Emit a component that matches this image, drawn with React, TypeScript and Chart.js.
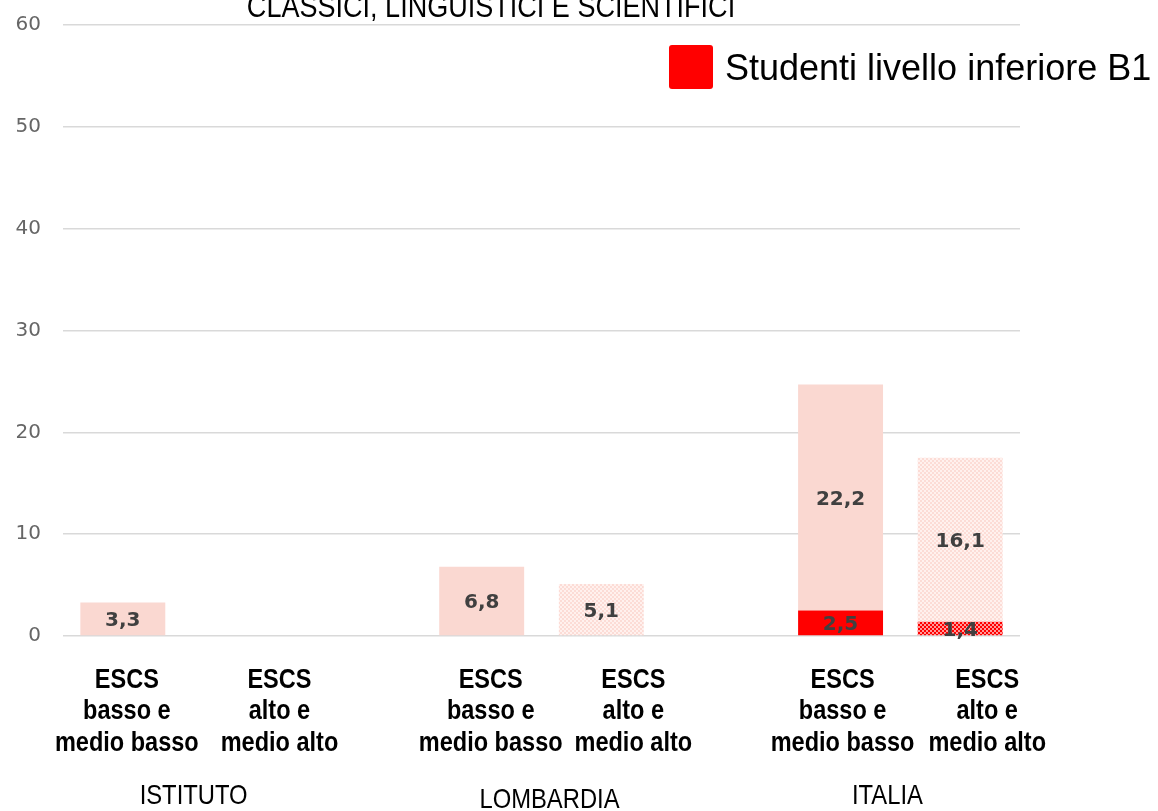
import React, { useEffect, useRef } from "react";
import { Chart, registerables } from "chart.js";

Chart.register(...registerables);

const categories: string[] = ["ist-basso", "ist-alto", "gap1", "lom-basso", "lom-alto", "gap2", "ita-basso", "ita-alto"];
const categoryLines: string[][] = [
  ["ESCS", "basso e", "medio basso"],
  ["ESCS", "alto e", "medio alto"],
  [],
  ["ESCS", "basso e", "medio basso"],
  ["ESCS", "alto e", "medio alto"],
  [],
  ["ESCS", "basso e", "medio basso"],
  ["ESCS", "alto e", "medio alto"],
];
const groupLabels: string[] = ["ISTITUTO", "LOMBARDIA", "ITALIA"];
const groupMembers: number[][] = [[0, 1], [3, 4], [6, 7]];
const isAlto: boolean[] = [false, true, false, false, true, false, false, true];

const belowB1: (number | null)[] = [null, null, null, null, null, null, 2.5, 1.4];
const otherStudents: (number | null)[] = [3.3, null, null, 6.8, 5.1, null, 22.2, 16.1];

const yMin = 0;
const yMax = 60;
const yStep = 10;

const chartTitle = "CLASSICI, LINGUISTICI E SCIENTIFICI";
const legendLabel = "Studenti livello inferiore B1";

const SANS = "'Liberation Sans', Arial, sans-serif";

function makePattern(bg: string, fg: string): CanvasPattern | string {
  const c = document.createElement("canvas");
  c.width = 4;
  c.height = 4;
  const g = c.getContext("2d");
  if (!g) return bg;
  g.fillStyle = bg;
  g.fillRect(0, 0, 4, 4);
  g.fillStyle = fg;
  g.fillRect(0, 0, 2, 2);
  g.fillRect(2, 2, 2, 2);
  const p = g.createPattern(c, "repeat");
  return p || bg;
}

function narrowText(ctx: CanvasRenderingContext2D, text: string, x: number, y: number, squeeze: number) {
  ctx.save();
  ctx.translate(x, y);
  ctx.scale(squeeze, 1);
  ctx.fillText(text, 0, 0);
  ctx.restore();
}

export default function App() {
  const ref = useRef<HTMLCanvasElement | null>(null);

  useEffect(() => {
    if (!ref.current) return;
    const redSolid = "#FF0000";
    const redPat = makePattern("#FF0000", "#FF9A9A");
    const pinkSolid = "#FAD8D1";
    const pinkPat = makePattern("#FFF1EE", "#FCDCD6");

    const labelNudge = [4, 37, 0, 9, 32, 0, 2, 27];
    const groupNudge = [11, 8, -13];
    const groupY = [796, 800, 796];

    const overlay = {
      id: "overlay",
      afterDatasetsDraw(chart: any) {
        const ctx = chart.ctx;
        ctx.save();
        ctx.fillStyle = "#404040";
        ctx.font = `600 20px 'DejaVu Sans', sans-serif`;
        ctx.textAlign = "center";
        ctx.textBaseline = "middle";
        chart.data.datasets.forEach((ds: any, di: number) => {
          const meta = chart.getDatasetMeta(di);
          meta.data.forEach((el: any, i: number) => {
            const v = ds.data[i];
            if (v == null || v <= 0) return;
            const txt = String(v).replace(".", ",");
            ctx.fillText(txt, el.x, (el.y + el.base) / 2 + 2);
          });
        });
        ctx.restore();
      },
      afterDraw(chart: any) {
        const ctx = chart.ctx;
        const x = chart.scales.x;
        ctx.save();
        ctx.textAlign = "center";
        ctx.textBaseline = "middle";
        // category labels
        ctx.fillStyle = "#000000";
        ctx.font = `bold 28px ${SANS}`;
        categoryLines.forEach((lines, i) => {
          const cx = x.getPixelForValue(i) + labelNudge[i];
          lines.forEach((ln, k) => {
            narrowText(ctx, ln, cx, 680 + k * 31.5, 0.84);
          });
        });
        // group labels
        ctx.font = `28px ${SANS}`;
        groupLabels.forEach((g, gi) => {
          const m = groupMembers[gi];
          const cx = (x.getPixelForValue(m[0]) + x.getPixelForValue(m[m.length - 1])) / 2 + groupNudge[gi];
          narrowText(ctx, g, cx, groupY[gi], 0.85);
        });
        // title (cut at top)
        ctx.font = `32px ${SANS}`;
        ctx.textBaseline = "alphabetic";
        narrowText(ctx, chartTitle, 491, 17, 0.845);
        // legend
        ctx.fillStyle = redSolid;
        const r = 3;
        const lx = 669, ly = 45, lw = 44;
        ctx.beginPath();
        ctx.moveTo(lx + r, ly);
        ctx.lineTo(lx + lw - r, ly);
        ctx.quadraticCurveTo(lx + lw, ly, lx + lw, ly + r);
        ctx.lineTo(lx + lw, ly + lw - r);
        ctx.quadraticCurveTo(lx + lw, ly + lw, lx + lw - r, ly + lw);
        ctx.lineTo(lx + r, ly + lw);
        ctx.quadraticCurveTo(lx, ly + lw, lx, ly + lw - r);
        ctx.lineTo(lx, ly + r);
        ctx.quadraticCurveTo(lx, ly, lx + r, ly);
        ctx.fill();
        ctx.fillStyle = "#000000";
        ctx.font = `36px ${SANS}`;
        ctx.textAlign = "left";
        ctx.textBaseline = "middle";
        ctx.fillText(legendLabel, 725, 70);
        ctx.restore();
      },
    };

    const chart = new Chart(ref.current, {
      type: "bar",
      data: {
        labels: categories,
        datasets: [
          {
            label: legendLabel,
            data: belowB1 as any,
            backgroundColor: isAlto.map((a) => (a ? redPat : redSolid)) as any,
            borderWidth: 0,
          },
          {
            label: "Altri",
            data: otherStudents as any,
            backgroundColor: isAlto.map((a) => (a ? pinkPat : pinkSolid)) as any,
            borderWidth: 0,
          },
        ],
      },
      options: {
        responsive: true,
        maintainAspectRatio: false,
        animation: false,
        barPercentage: 0.71,
        categoryPercentage: 1,
        layout: { padding: { top: 25, right: 138, bottom: 175, left: 0 } },
        plugins: {
          legend: { display: false },
          title: { display: false },
          tooltip: { enabled: false },
        },
        scales: {
          x: {
            stacked: true,
            display: false,
            offset: true,
            grid: { display: false },
          },
          y: {
            stacked: true,
            min: yMin,
            max: yMax,
            ticks: {
              stepSize: yStep,
              color: "#666666",
              font: { family: "'DejaVu Sans', sans-serif", size: 20 },
              padding: 0,
            },
            grid: {
              color: "#D9D9D9",
              lineWidth: 1.5,
              drawTicks: true,
              tickLength: 22,
              tickColor: "rgba(0,0,0,0)",
            },
            border: { display: false },
            afterFit: (s: any) => {
              s.width = 63;
            },
          },
        },
      } as any,
      plugins: [overlay],
    });
    return () => chart.destroy();
  }, []);

  return (
    <div style={{ position: "absolute", left: 0, top: 0, width: 1158, height: 811 }}>
      <canvas ref={ref} />
    </div>
  );
}
